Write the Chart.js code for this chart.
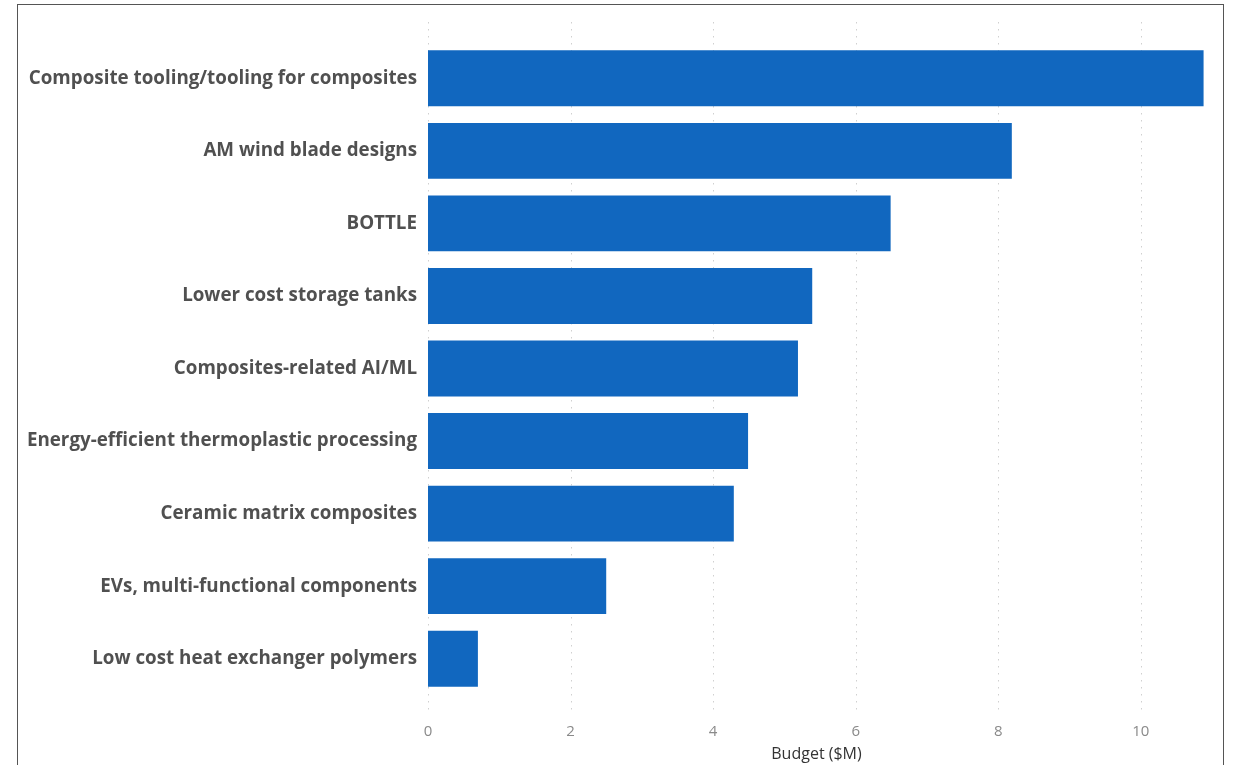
<!DOCTYPE html>
<html>
<head>
<meta charset="utf-8">
<script src="https://cdn.jsdelivr.net/npm/chart.js@4/dist/chart.umd.min.js"></script>
<style>
  html, body { margin: 0; padding: 0; background: #fff; overflow: hidden; }
  #wrap { position: relative; width: 1236px; height: 765px; }
  #frame { position: absolute; left: 17px; top: 4px; width: 1207px; height: 800px; border: 1.5px solid #555; box-sizing: border-box; pointer-events: none; }
  canvas { position: absolute; left: 0; top: 0; }
</style>
</head>
<body>
<div id="wrap">
  <canvas id="chart" width="1236" height="765"></canvas>
  <div id="frame"></div>
</div>
<script>
// categories and budget values ($M), top to bottom
const categories = [
  "Composite tooling/tooling for composites",
  "AM wind blade designs",
  "BOTTLE",
  "Lower cost storage tanks",
  "Composites-related AI/ML",
  "Energy-efficient thermoplastic processing",
  "Ceramic matrix composites",
  "EVs, multi-functional components",
  "Low cost heat exchanger polymers"
];
const budget = [10.88, 8.19, 6.49, 5.39, 5.19, 4.49, 4.29, 2.5, 0.7];
const xTicks = [0, 2, 4, 6, 8, 10];

// dotted vertical gridlines that run a bit past the plot area, like the original
const dottedGrid = {
  id: "dottedGrid",
  beforeDatasetsDraw(chart) {
    const ctx = chart.ctx;
    const x = chart.scales.x;
    const area = chart.chartArea;
    ctx.save();
    ctx.strokeStyle = "#d0d0d0";
    ctx.lineWidth = 1;
    ctx.setLineDash([1.5, 5.5]);
    xTicks.forEach(v => {
      const px = Math.round(x.getPixelForValue(v)) + 0.5;
      ctx.beginPath();
      ctx.moveTo(px, area.top - 20);
      ctx.lineTo(px, area.bottom + 20);
      ctx.stroke();
    });
    ctx.restore();
  }
};

new Chart(document.getElementById("chart"), {
  type: "bar",
  data: {
    labels: categories,
    datasets: [{
      label: "Budget ($M)",
      data: budget,
      backgroundColor: "#1167bf",
      borderWidth: 0,
      categoryPercentage: 0.77,
      barPercentage: 1
    }]
  },
  options: {
    indexAxis: "y",
    responsive: false,
    animation: false,
    layout: { padding: { top: 42, right: 31, bottom: 0, left: 0 } },
    plugins: {
      legend: { display: false },
      tooltip: { enabled: false }
    },
    scales: {
      x: {
        min: 0,
        max: 10.9,
        afterBuildTicks: s => { s.ticks = xTicks.map(v => ({ value: v })); },
        afterFit: s => { s.height = 70; },
        grid: { display: false, drawTicks: false },
        border: { display: false },
        ticks: {
          padding: 28,
          color: "#8a8a8a",
          font: { family: "'Open Sans', sans-serif", size: 15 }
        },
        title: {
          display: true,
          text: "Budget ($M)",
          color: "#333",
          padding: { top: 2, bottom: 1 },
          font: { family: "'Open Sans', sans-serif", size: 16 }
        }
      },
      y: {
        afterFit: s => { s.width = 428; },
        grid: { display: false, drawTicks: false },
        border: { display: false },
        ticks: {
          padding: 11,
          color: "#505050",
          font: { family: "'Open Sans', sans-serif", size: 18.8, weight: "bold" }
        }
      }
    }
  },
  plugins: [dottedGrid]
});
</script>
</body>
</html>
